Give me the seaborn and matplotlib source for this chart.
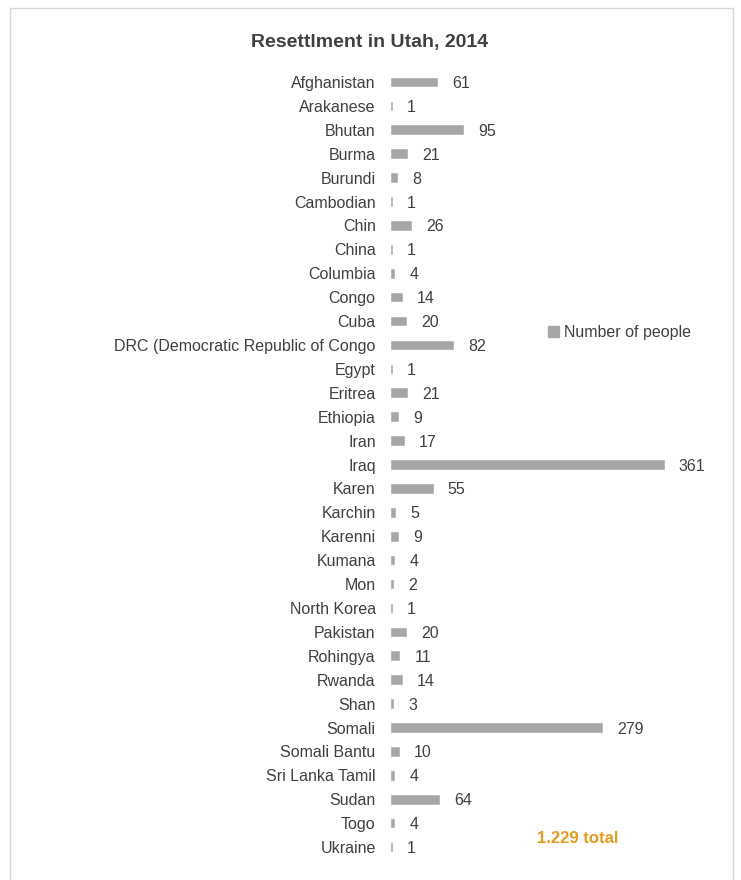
import matplotlib
matplotlib.use("Agg")
import matplotlib.pyplot as plt
import matplotlib.patches as mpatches
import seaborn as sns
import pandas as pd

countries = [
    "Afghanistan", "Arakanese", "Bhutan", "Burma", "Burundi", "Cambodian",
    "Chin", "China", "Columbia", "Congo", "Cuba",
    "DRC (Democratic Republic of Congo", "Egypt", "Eritrea", "Ethiopia",
    "Iran", "Iraq", "Karen", "Karchin", "Karenni", "Kumana", "Mon",
    "North Korea", "Pakistan", "Rohingya", "Rwanda", "Shan", "Somali",
    "Somali Bantu", "Sri Lanka Tamil", "Sudan", "Togo", "Ukraine",
]
people = [
    61, 1, 95, 21, 8, 1,
    26, 1, 4, 14, 20,
    82, 1, 21, 9,
    17, 361, 55, 5, 9, 4, 2,
    1, 20, 11, 14, 3, 279,
    10, 4, 64, 4, 1,
]
title = "Resettlment in Utah, 2014"
series_name = "Number of people"
total_label = "1.229 total"

df = pd.DataFrame({"country": countries, "people": people})

sns.set_theme(style="white")
plt.rcParams["font.family"] = ["Liberation Sans Narrow", "Liberation Sans", "DejaVu Sans"]

text_color = "#404040"
bar_color = "#A6A6A6"

fig = plt.figure(figsize=(7.41, 8.80), dpi=100)
fig.patch.set_facecolor("white")

# light frame around the chart area
frame = mpatches.Rectangle((10 / 741, -0.05), 723 / 741, 1.05 - 8 / 880,
                           transform=fig.transFigure, fill=False,
                           edgecolor="#D9D9D9", linewidth=1.0)
fig.patches.append(frame)

ax = fig.add_axes([391 / 741, 21 / 880, 302 / 741, 789 / 880])
sns.barplot(data=df, x="people", y="country", color=bar_color,
            width=0.36, ax=ax, saturation=1,
            edgecolor=bar_color, linewidth=0.4)

ax.set_xlim(0, 400)
ax.set_ylim(len(countries) - 0.5, -0.5)
ax.set_xlabel("")
ax.set_ylabel("")
ax.set_xticks([])
for s in ax.spines.values():
    s.set_visible(False)
ax.tick_params(axis="y", length=0, pad=11, labelsize=11.5, labelcolor=text_color)

for i, v in enumerate(people):
    ax.annotate(str(v), xy=(v, i), xytext=(11, 0), textcoords="offset points",
                va="center_baseline", ha="left", fontsize=11.5, color=text_color)

fig.text(370 / 741, 1 - 42 / 880, title, ha="center", va="center",
         fontsize=14, fontweight="bold", color=text_color)

handle = mpatches.Patch(color=bar_color, label=series_name)
fig.legend(handles=[handle], loc="center left",
           bbox_to_anchor=(548 / 741, 1 - 333 / 880), frameon=False,
           fontsize=11.5, handlelength=0.7, handleheight=0.7,
           handletextpad=0.3, labelcolor=text_color, borderaxespad=0,
           borderpad=0)

fig.text(578 / 741, 1 - 838 / 880, total_label, ha="center", va="center",
         fontsize=12, fontweight="bold", color="#E59C1E")

fig.savefig("out.png", dpi=100)
